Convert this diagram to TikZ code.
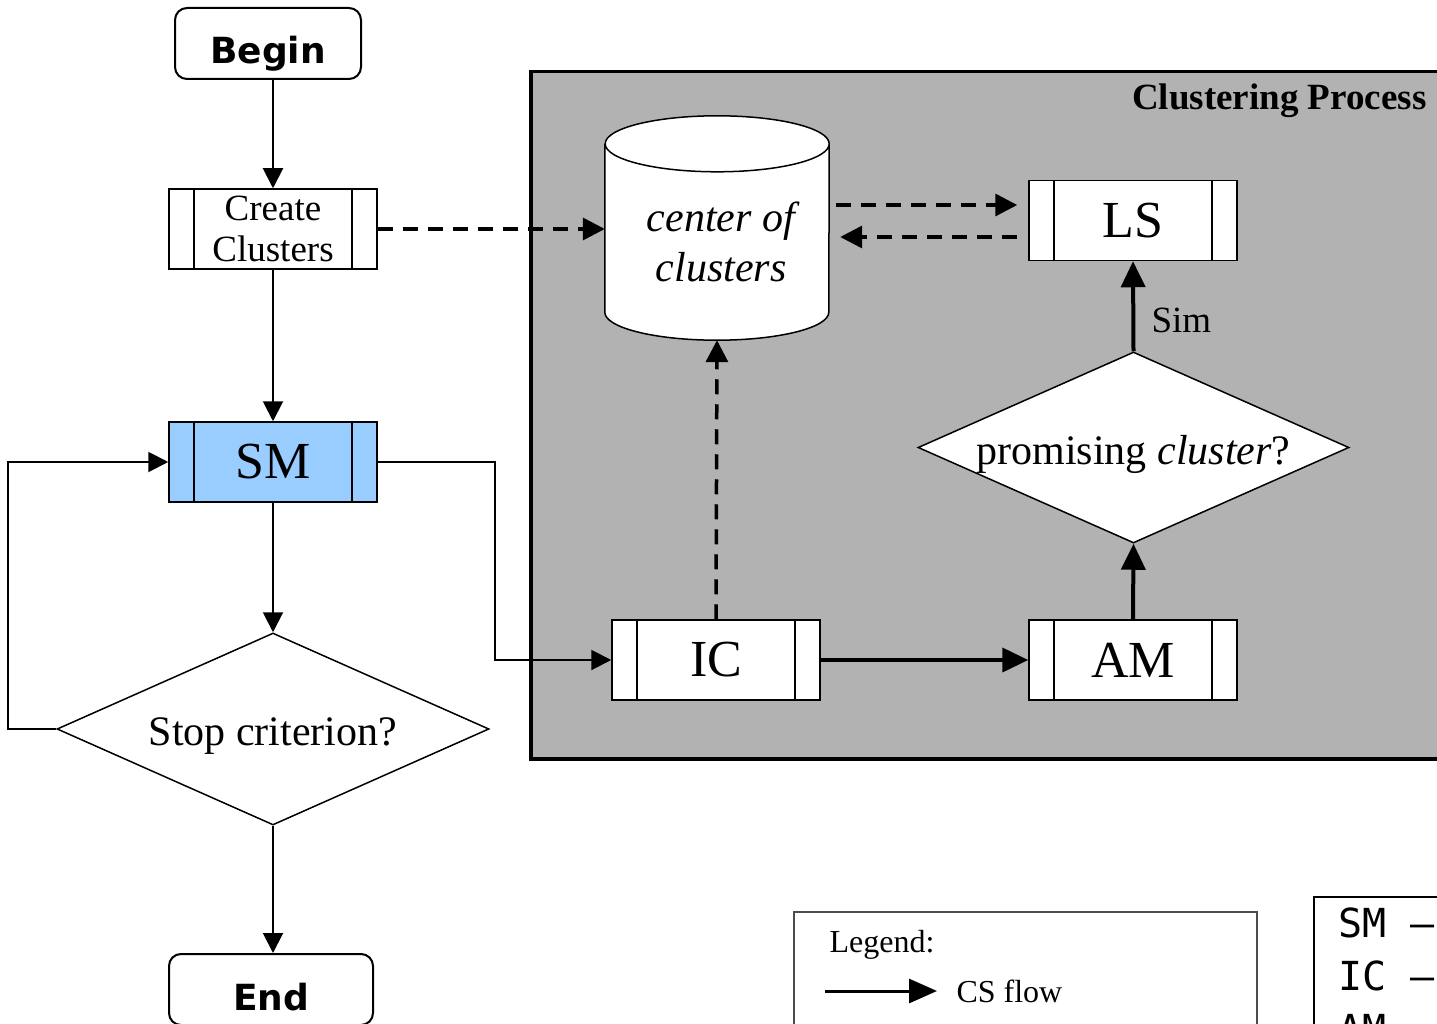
\documentclass[tikz,border=0pt]{standalone}
\usepackage{fontspec}
\setmainfont{Liberation Serif}
\newfontfamily\headsans{DejaVu Sans}
\newfontfamily\abbrmono{DejaVu Sans Mono}
\usetikzlibrary{shapes.geometric,arrows.meta,calc}
\pgfdeclarelayer{back}
\pgfdeclarelayer{mid}
\pgfsetlayers{back,mid,main}
\definecolor{procgray}{RGB}{178,178,178}
\definecolor{smblue}{RGB}{153,204,255}

\begin{document}
\begin{tikzpicture}[x=1pt,y=1pt,
  flow/.style={line width=2pt, -{Triangle[length=20pt,width=20pt]}},
  thickflow/.style={line width=4pt, -{Triangle[length=26pt,width=24pt]}},
  dataflow/.style={line width=3.5pt, dash pattern=on 15pt off 10pt, -{Triangle[length=22pt,width=22pt]}},
  procbox/.style={draw, line width=1.5pt, fill=white, minimum width=208pt, minimum height=80pt, inner sep=0pt,
    path picture={\draw[line width=1.5pt]
      ([xshift=25pt]path picture bounding box.north west) -- ([xshift=25pt]path picture bounding box.south west)
      ([xshift=-25pt]path picture bounding box.north east) -- ([xshift=-25pt]path picture bounding box.south east);}},
  bigtext/.style={font=\fontsize{52}{56}\selectfont},
  terminal/.style={draw, line width=2pt, rounded corners=12pt, fill=white, inner sep=0pt,
    minimum height=71pt, text height=41pt, text depth=0pt, font=\headsans\bfseries\fontsize{36}{40}\selectfont},
  decision/.style={diamond, draw, line width=1.5pt, fill=white, inner sep=0pt,
    text height=33pt, text depth=0pt, font=\fontsize{42}{48}\selectfont},
]
\useasboundingbox (0,0) rectangle (1437,-1024);

% clustering process region
\begin{pgfonlayer}{back}
\node[draw, line width=3.5pt, fill=procgray, anchor=north west, minimum width=920pt, minimum height=687pt, inner sep=0pt] (region) at (529,-70) {};
\end{pgfonlayer}
\node[anchor=base east, font=\bfseries\fontsize{37}{40}\selectfont] (regiontitle) at (1430,-110) {Clustering Process};

% main flow
\node[terminal, minimum width=186pt] (begin) at (268,-43.5) {Begin};
\node[procbox, font=\fontsize{37}{41}\selectfont, align=center] (cc) at (273,-229) {Create\\Clusters};
\node[procbox, bigtext, fill=smblue] (sm) at (273,-462) {SM};
\node[decision, minimum width=432pt, minimum height=192pt, aspect=2.25] (stop) at (273,-729) {Stop criterion?};
\node[terminal, minimum width=204pt] (end) at (271,-989.5) {End};

% store of cluster centres
\node[inner sep=0pt, minimum width=224pt, minimum height=196pt, align=center,
      font=\itshape\fontsize{42}{50}\selectfont] (cyl) at (717,-242) {\hspace*{8pt}center of\\\hspace*{8pt}clusters};
\begin{pgfonlayer}{mid}
\draw[line width=1.5pt, fill=white] (cyl.north west) -- ($(cyl.south west)+(0,28)$)
  arc[start angle=180, end angle=360, x radius=112pt, y radius=28pt] -- (cyl.north east)
  arc[start angle=0, end angle=360, x radius=112pt, y radius=28pt];
\end{pgfonlayer}

% inner process steps
\node[procbox, bigtext] (ls) at (1133,-220.5) {LS};
\node[decision, minimum width=431pt, minimum height=191pt, aspect=2.26] (prom) at (1133.5,-447.5) {promising \textit{cluster}?};
\node[procbox, bigtext] (ic) at (716,-660) {IC};
\node[procbox, bigtext] (am) at (1133,-660) {AM};
\node[anchor=base west, font=\fontsize{37}{40}\selectfont] (sim) at (1148,-332) {Sim};

% connectors
\draw[flow] (cc.north |- begin.south) -- (cc.north);
\draw[flow] (cc.south) -- (sm.north);
\draw[flow] (sm.south) -- (stop.north);
\draw[flow] (stop.south) -- (stop.south |- end.north);
\draw[flow] (stop.west) -- ++(-48,0) |- (sm.west);
\draw[flow] (sm.east) -- ++(117,0) |- (ic.west);
\draw[dataflow] (cc.east) -- (cc.east -| cyl.west);
\draw[dataflow] (ic.north) -- (cyl.south);
\draw[dataflow] ($(cyl.east |- ls.west)+(7,15.5)$) -- ($(ls.west)+(-11,15.5)$);
\draw[dataflow] ($(ls.west)+(-11,-16.5)$) -- ($(cyl.east |- ls.west)+(11,-16.5)$);
\draw[thickflow] (ic.east) -- (am.west);
\draw[thickflow] (am.north) -- (prom.south);
\draw[thickflow] (prom.north) -- (ls.south);

% legend
\node[draw=black!70, line width=1.5pt, anchor=north west, minimum width=463pt, minimum height=140pt, inner sep=0pt] (legend) at (793,-911) {};
\node[anchor=base west, font=\fontsize{32}{36}\selectfont] (legendtitle) at (826,-952) {Legend:};
\coordinate (lgA) at (825,-991);
\coordinate (lgB) at (937,-991);
\draw[line width=3pt, -{Triangle[length=28pt,width=24pt]}] (lgA) -- (lgB);
\node[anchor=base west, font=\fontsize{32}{36}\selectfont] (lgtext) at (953,-1002) {CS flow};

% abbreviations
\node[draw, line width=2pt, anchor=north west, minimum width=140pt, minimum height=150pt, inner sep=0pt] (abbr) at (1313,-896) {};
\node[anchor=base west, font=\abbrmono\fontsize{40}{44}\selectfont] (abSM) at (1335,-937) {SM –};
\node[anchor=base west, font=\abbrmono\fontsize{40}{44}\selectfont] (abIC) at (1335,-990) {IC –};
\node[anchor=base west, font=\abbrmono\fontsize{40}{44}\selectfont] (abAM) at (1335,-1043) {AM};
\end{tikzpicture}
\end{document}
